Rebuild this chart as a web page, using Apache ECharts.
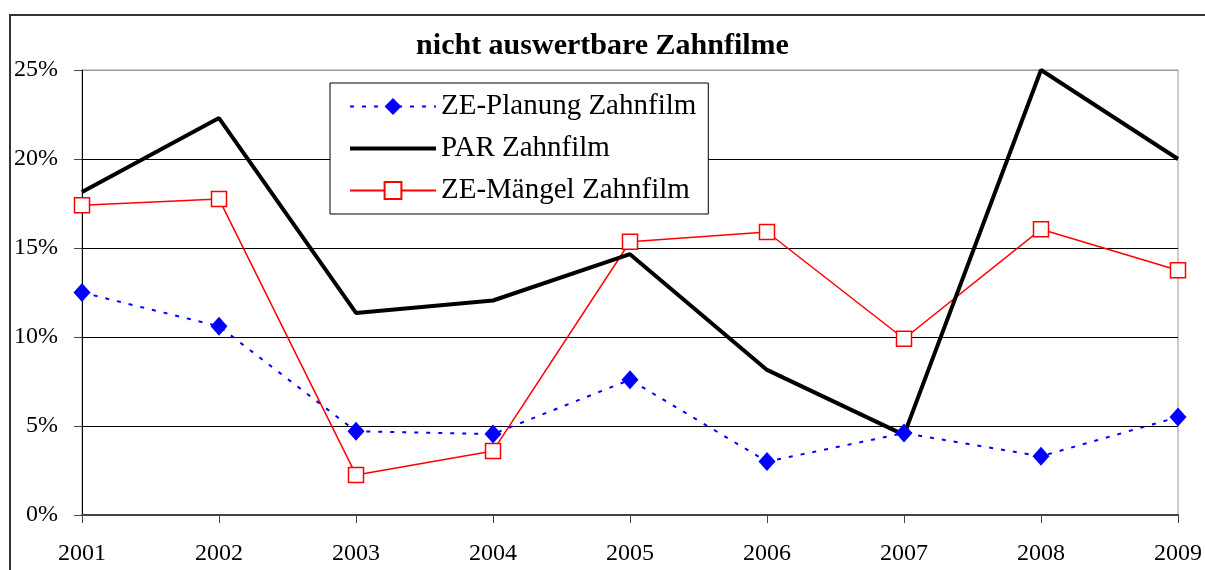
<!DOCTYPE html>
<html>
<head>
<meta charset="utf-8">
<script src="https://cdn.jsdelivr.net/npm/echarts@6/dist/echarts.min.js"></script>
<style>
  html, body { margin: 0; padding: 0; background: #fff; }
  #chart { width: 1205px; height: 570px; }
</style>
</head>
<body>
<div id="chart"></div>
<script>
  // Jahre (x-Achse)
  var years = ['2001', '2002', '2003', '2004', '2005', '2006', '2007', '2008', '2009'];
  // Anteile in Prozent
  var zePlanung = [12.5, 10.6, 4.7, 4.55, 7.6, 3.0, 4.6, 3.3, 5.5];
  var parZahnfilm = [18.15, 22.3, 11.35, 12.05, 14.65, 8.15, 4.5, 25.0, 20.0];
  var zeMaengel = [17.4, 17.75, 2.25, 3.6, 15.35, 15.9, 9.9, 16.05, 13.75];
  var yTicks = [0, 5, 10, 15, 20, 25];

  var serif = '"Liberation Serif", "DejaVu Serif", serif';
  var chart = echarts.init(document.getElementById('chart'));

  var option = {
    animation: false,
    backgroundColor: '#fff',
    title: {
      text: 'nicht auswertbare Zahnfilme',
      left: 'center',
      top: 26,
      textStyle: { fontFamily: serif, fontWeight: 'bold', fontSize: 30, color: '#000' }
    },
    graphic: [
      { // äußerer Rahmen
        type: 'rect',
        shape: { x: 10, y: 15, width: 1220, height: 600 },
        style: { fill: 'none', stroke: '#333', lineWidth: 2 },
        silent: true
      }
    ],
    legend: {
      left: 330,
      top: 83,
      orient: 'vertical',
      padding: [9, 12, 9, 18],
      itemGap: 13,
      itemWidth: 86,
      itemHeight: 21,
      backgroundColor: '#fff',
      borderColor: '#000',
      borderWidth: 1,
      textStyle: { fontFamily: serif, fontSize: 29, color: '#000' },
      data: [
        'ZE-Planung Zahnfilm',
        { name: 'PAR Zahnfilm', itemStyle: { opacity: 0 }, lineStyle: { width: 4, color: '#000' } },
        'ZE-Mängel Zahnfilm'
      ]
    },
    grid: {
      left: 82, right: 26, top: 70, bottom: 55,
      show: true, borderColor: '#999', borderWidth: 1
    },
    xAxis: {
      type: 'category',
      data: years,
      boundaryGap: false,
      axisLine: { lineStyle: { color: '#444', width: 2 } },
      axisTick: { show: true, length: 8, lineStyle: { color: '#444' } },
      axisLabel: { fontFamily: serif, fontSize: 24, color: '#000', margin: 27 },
      splitLine: { show: false }
    },
    yAxis: {
      type: 'value',
      min: yTicks[0],
      max: yTicks[yTicks.length - 1],
      interval: 5,
      axisLine: { show: true, lineStyle: { color: '#000', width: 1 } },
      axisTick: { show: true, length: 8, lineStyle: { color: '#444' } },
      axisLabel: { fontFamily: serif, fontSize: 24, color: '#000', margin: 24, formatter: '{value}%' },
      splitLine: { show: true, lineStyle: { color: ['#000', '#000', '#000', '#000', '#000', '#999'], width: 1 } }
    },
    series: [
      {
        name: 'ZE-Planung Zahnfilm',
        type: 'line',
        data: zePlanung,
        symbol: 'diamond',
        symbolSize: [17, 19],
        z: 4,
        lineStyle: { color: '#0000ff', width: 2, type: [4, 8] },
        itemStyle: { color: '#0000ff' }
      },
      {
        name: 'PAR Zahnfilm',
        type: 'line',
        data: parZahnfilm,
        showSymbol: false,
        symbol: 'none',
        z: 3,
        lineStyle: { color: '#000', width: 4 },
        itemStyle: { color: '#000' }
      },
      {
        name: 'ZE-Mängel Zahnfilm',
        type: 'line',
        data: zeMaengel,
        symbol: 'rect',
        symbolSize: 15,
        z: 2,
        lineStyle: { color: '#ff0000', width: 1.5 },
        itemStyle: { color: '#fff', borderColor: '#ff0000', borderWidth: 1.5 }
      }
    ]
  };

  chart.setOption(option);
</script>
</body>
</html>
